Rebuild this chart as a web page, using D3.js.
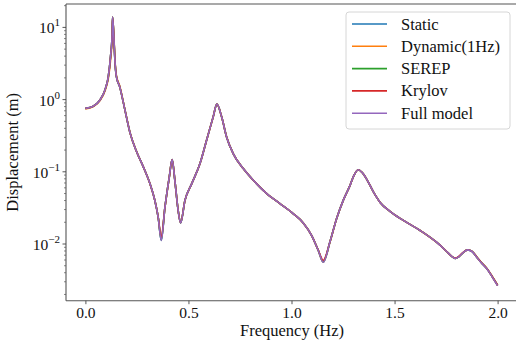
<!DOCTYPE html>
<html>
<head>
<meta charset="utf-8">
<script src="https://cdn.jsdelivr.net/npm/d3@7/dist/d3.min.js"></script>
<style>
  html, body { margin: 0; padding: 0; background: #fff; }
  svg { display: block; }
  svg text { font-family: "Liberation Serif", "Times New Roman", serif; }
</style>
</head>
<body>
<svg id="chart" width="516" height="346"></svg>
<script>
// Frequency grid (Hz)
const freq = [
  0.000, 0.038, 0.070, 0.095, 0.111, 0.122, 0.130, 0.132, 0.138, 0.143,
  0.150, 0.167, 0.192, 0.217, 0.249, 0.281, 0.313, 0.337, 0.353, 0.368,
  0.386, 0.407, 0.421, 0.434, 0.450, 0.462, 0.483, 0.516, 0.556, 0.588,
  0.620, 0.638, 0.661, 0.685, 0.717, 0.766, 0.815, 0.880, 0.944, 1.009,
  1.057, 1.098, 1.130, 1.154, 1.187, 1.219, 1.251, 1.284, 1.303, 1.324,
  1.342, 1.365, 1.396, 1.430, 1.478, 1.543, 1.624, 1.705, 1.753, 1.779,
  1.796, 1.813, 1.833, 1.854, 1.876, 1.899, 1.920, 1.948, 1.973, 2.000
];

// Displacement amplitude (m) of each reduced model and of the full model
const staticDisp = [
  0.755, 0.81, 0.98, 1.36, 2.07, 3.93, 8.3, 13.9, 7.45, 3.6,
  2.12, 1.49, 0.715, 0.343, 0.188, 0.117, 0.0686, 0.040, 0.0236, 0.0112,
  0.0324, 0.0847, 0.1476, 0.0762, 0.0292, 0.0195, 0.0402, 0.0686, 0.130, 0.274,
  0.577, 0.866, 0.577, 0.304, 0.179, 0.111, 0.0762, 0.0498, 0.0362, 0.0262,
  0.0196, 0.0131, 0.00812, 0.00559, 0.0108, 0.0226, 0.0402, 0.0649, 0.0894, 0.107,
  0.0984, 0.0787, 0.0536, 0.0377, 0.0283, 0.0212, 0.0154, 0.0105, 0.00787, 0.0067,
  0.0063, 0.0067, 0.00762, 0.0083, 0.00787, 0.00656, 0.00553, 0.00453, 0.00354, 0.00265
];
const dynamicDisp = [
  0.74, 0.80, 0.96, 1.32, 1.95, 3.5, 7.6, 13.6, 8.0, 3.8,
  2.20, 1.53, 0.722, 0.345, 0.189, 0.117, 0.0688, 0.0402, 0.0238, 0.0120,
  0.0322, 0.0845, 0.1470, 0.0765, 0.0294, 0.0198, 0.0400, 0.0684, 0.130, 0.273,
  0.575, 0.862, 0.578, 0.305, 0.179, 0.111, 0.0762, 0.0498, 0.0362, 0.0262,
  0.0196, 0.0131, 0.00815, 0.00565, 0.0107, 0.0225, 0.0401, 0.0648, 0.0893, 0.107,
  0.0984, 0.0787, 0.0536, 0.0377, 0.0283, 0.0212, 0.0154, 0.0105, 0.00788, 0.0067,
  0.0063, 0.0067, 0.00760, 0.0083, 0.00790, 0.00660, 0.00556, 0.00456, 0.00357, 0.00268
];
const serepDisp = [
  0.755, 0.81, 0.98, 1.36, 2.07, 3.93, 8.3, 13.9, 7.45, 3.6,
  2.12, 1.49, 0.715, 0.343, 0.188, 0.117, 0.0686, 0.040, 0.0236, 0.0114,
  0.0324, 0.0847, 0.1476, 0.0762, 0.0292, 0.0196, 0.0402, 0.0686, 0.130, 0.274,
  0.577, 0.866, 0.577, 0.304, 0.179, 0.111, 0.0762, 0.0498, 0.0362, 0.0262,
  0.0196, 0.0131, 0.00815, 0.00570, 0.0108, 0.0226, 0.0402, 0.0649, 0.0894, 0.107,
  0.0984, 0.0787, 0.0536, 0.0377, 0.0283, 0.0212, 0.0154, 0.0105, 0.00787, 0.0067,
  0.0063, 0.0067, 0.00762, 0.0083, 0.00792, 0.00662, 0.00558, 0.00458, 0.00359, 0.00270
];
const krylovDisp = [
  0.755, 0.81, 0.98, 1.36, 2.07, 3.93, 8.3, 13.9, 7.45, 3.6,
  2.12, 1.49, 0.715, 0.343, 0.188, 0.117, 0.0686, 0.040, 0.0238, 0.0124,
  0.0324, 0.0847, 0.1476, 0.0762, 0.0292, 0.0198, 0.0402, 0.0686, 0.130, 0.274,
  0.577, 0.866, 0.577, 0.304, 0.179, 0.111, 0.0762, 0.0498, 0.0362, 0.0262,
  0.0196, 0.0131, 0.00820, 0.00595, 0.0108, 0.0226, 0.0402, 0.0649, 0.0894, 0.107,
  0.0984, 0.0787, 0.0536, 0.0377, 0.0283, 0.0212, 0.0154, 0.0105, 0.00787, 0.0067,
  0.0064, 0.0068, 0.00765, 0.0083, 0.00792, 0.00662, 0.00558, 0.00458, 0.00358, 0.00268
];
const fullDisp = [
  0.755, 0.81, 0.98, 1.36, 2.07, 3.93, 8.3, 13.9, 7.45, 3.6,
  2.12, 1.49, 0.715, 0.343, 0.188, 0.117, 0.0686, 0.040, 0.0236, 0.0112,
  0.0324, 0.0847, 0.1476, 0.0762, 0.0292, 0.0195, 0.0402, 0.0686, 0.130, 0.274,
  0.577, 0.866, 0.577, 0.304, 0.179, 0.111, 0.0762, 0.0498, 0.0362, 0.0262,
  0.0196, 0.0131, 0.00812, 0.00559, 0.0108, 0.0226, 0.0402, 0.0649, 0.0894, 0.107,
  0.0984, 0.0787, 0.0536, 0.0377, 0.0283, 0.0212, 0.0154, 0.0105, 0.00787, 0.0067,
  0.0063, 0.0067, 0.00762, 0.0083, 0.00787, 0.00656, 0.00553, 0.00453, 0.00354, 0.00265
];

const seriesNames = ["Static", "Dynamic(1Hz)", "SEREP", "Krylov", "Full model"];
const seriesValues = [staticDisp, dynamicDisp, serepDisp, krylovDisp, fullDisp];
const seriesColors = ["#1f77b4", "#ff7f0e", "#2ca02c", "#d62728", "#9467bd"];

const xTicks = [0.0, 0.5, 1.0, 1.5, 2.0];
const yTickExponents = [-2, -1, 0, 1];

const serif = "'Liberation Serif', 'Times New Roman', serif";
const svg = d3.select("#chart");

// Plot frame
const frameLeft = 66, frameRight = 518, frameTop = 4, frameBottom = 300.7;

const x = d3.scaleLinear().domain([0, 2]).range([85.4, 497.6]);
const y = d3.scaleLog().domain([1e-2, 1e1]).range([244, 27.4]);

// Data lines
const line = d3.line()
  .x((d, i) => x(freq[i]))
  .y(d => y(d))
  .curve(d3.curveMonotoneX);

const plot = svg.append("g");
seriesValues.forEach((vals, k) => {
  plot.append("path")
    .attr("d", line(vals))
    .attr("fill", "none")
    .attr("stroke", seriesColors[k])
    .attr("stroke-width", 1.6)
    .attr("stroke-linejoin", "round");
});

// Spines (left, bottom, top)
const spine = svg.append("g").attr("stroke", "#555").attr("stroke-width", 1.1);
spine.append("line").attr("x1", frameLeft).attr("x2", frameLeft).attr("y1", frameTop).attr("y2", frameBottom);
spine.append("line").attr("x1", frameLeft).attr("x2", frameRight).attr("y1", frameBottom).attr("y2", frameBottom);
spine.append("line").attr("x1", frameLeft).attr("x2", frameRight).attr("y1", frameTop).attr("y2", frameTop);

// X axis
const xAxis = d3.axisBottom(x).tickValues(xTicks).tickFormat(d3.format(".1f")).tickSize(3.5).tickPadding(3);
const gx = svg.append("g").attr("transform", `translate(0,${frameBottom})`).call(xAxis)
  .attr("font-family", serif);
gx.select(".domain").remove();
gx.selectAll(".tick line").attr("stroke", "#444").attr("stroke-width", 0.9);
gx.selectAll(".tick text")
  .attr("fill", "#111")
  .attr("font-family", serif)
  .attr("font-size", 15.5);

// Y axis: major decades and minor ticks
const yMinor = [];
for (let e = -3; e <= 1; e++) {
  for (let m = 2; m <= 9; m++) {
    const v = m * Math.pow(10, e);
    if (y(v) >= frameTop && y(v) <= frameBottom) yMinor.push(v);
  }
}
const gy = svg.append("g");
gy.selectAll("line.minor").data(yMinor).join("line")
  .attr("class", "minor")
  .attr("x1", frameLeft - 2).attr("x2", frameLeft)
  .attr("y1", d => y(d)).attr("y2", d => y(d))
  .attr("stroke", "#555").attr("stroke-width", 0.7);
gy.selectAll("line.major").data(yTickExponents).join("line")
  .attr("class", "major")
  .attr("x1", frameLeft - 3.5).attr("x2", frameLeft)
  .attr("y1", d => y(Math.pow(10, d))).attr("y2", d => y(Math.pow(10, d)))
  .attr("stroke", "#444").attr("stroke-width", 0.9);

const yLabels = gy.selectAll("text.ylab").data(yTickExponents).join("text")
  .attr("class", "ylab")
  .attr("text-anchor", "end")
  .attr("fill", "#111")
  .attr("font-family", serif)
  .attr("x", frameLeft - 6)
  .attr("y", d => y(Math.pow(10, d)) + 6);
yLabels.append("tspan").attr("font-size", 15.5).text("10");
yLabels.append("tspan")
  .attr("font-size", 11)
  .attr("dy", -7)
  .text(d => d < 0 ? "\u2212" + Math.abs(d) : String(d));

// Axis titles
svg.append("text")
  .attr("x", (frameLeft + frameRight) / 2)
  .attr("y", 336)
  .attr("text-anchor", "middle")
  .attr("fill", "#111")
  .attr("font-family", serif)
  .attr("font-size", 16.5)
  .text("Frequency (Hz)");

svg.append("text")
  .attr("transform", `translate(17.5,${(frameTop + frameBottom) / 2}) rotate(-90)`)
  .attr("text-anchor", "middle")
  .attr("fill", "#111")
  .attr("font-family", serif)
  .attr("font-size", 16.5)
  .text("Displacement (m)");

// Legend
const legend = svg.append("g");
legend.append("rect")
  .attr("x", 346).attr("y", 12)
  .attr("width", 164).attr("height", 117)
  .attr("rx", 3)
  .attr("fill", "#fff").attr("fill-opacity", 0.8)
  .attr("stroke", "#d6d6d6").attr("stroke-width", 1);
seriesNames.forEach((name, k) => {
  const cy = 24 + k * 22.3;
  legend.append("line")
    .attr("x1", 352).attr("x2", 387)
    .attr("y1", cy).attr("y2", cy)
    .attr("stroke", seriesColors[k]).attr("stroke-width", 1.6);
  legend.append("text")
    .attr("x", 401).attr("y", cy + 5.5)
    .attr("fill", "#111")
    .attr("font-family", serif)
    .attr("font-size", 16.5)
    .text(name);
});
</script>
</body>
</html>
